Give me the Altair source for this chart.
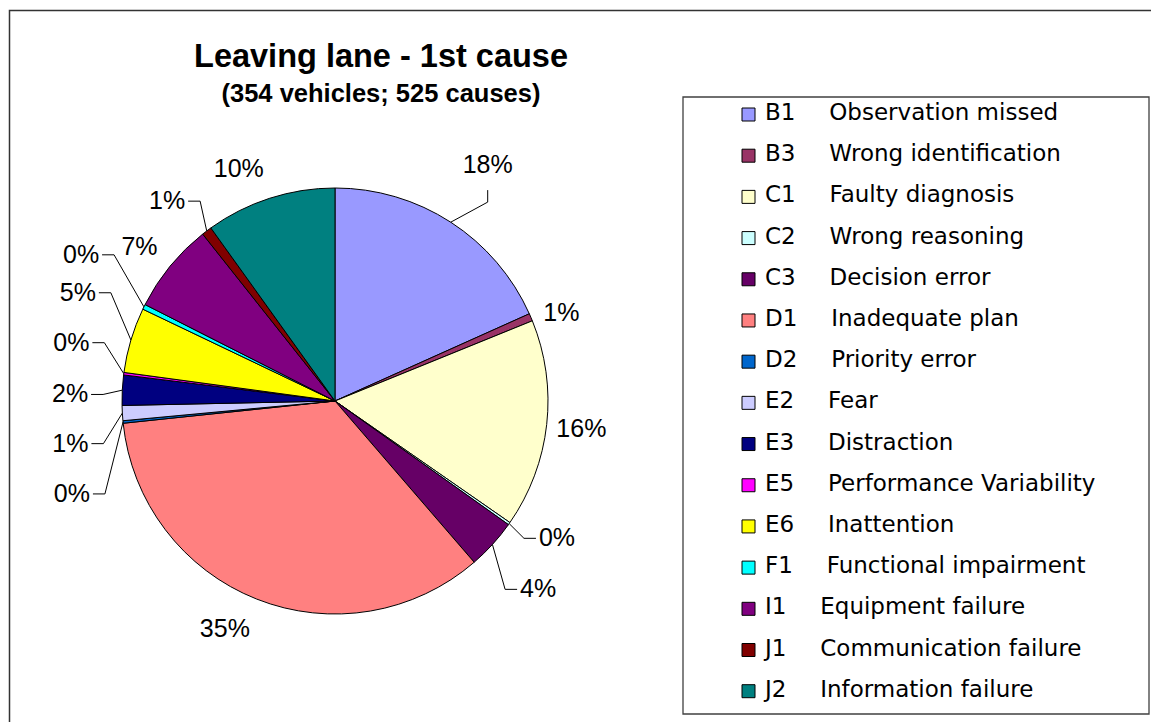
import altair as alt
import pandas as pd

# ---- data ----
keys = ["B1", "B3", "C1", "C2", "C3", "D1", "D2", "E2", "E3", "E5", "E6", "F1", "I1", "J1", "J2"]
descs = ["Observation missed", "Wrong identification", "Faulty diagnosis", "Wrong reasoning",
         "Decision error", "Inadequate plan", "Priority error", "Fear", "Distraction",
         "Performance Variability", "Inattention", "Functional impairment", "Equipment failure",
         "Communication failure", "Information failure"]
counts = [96, 3, 83, 1, 20, 182, 1, 6, 12, 1, 26, 2, 36, 4, 52]
colors = ["#9999FF", "#993366", "#FFFFCC", "#CCFFFF", "#660066", "#FF8080", "#0066CC", "#CCCCFF",
          "#000080", "#FF00FF", "#FFFF00", "#00FFFF", "#800080", "#800000", "#008080"]

title_main = "Leaving lane - 1st cause"
title_sub = "(354 vehicles; 525 causes)"

# ---- label layout (offset from slice mid-angle in degrees, radius in px, leader flags) ----
label_dang = [0, 1.8, 0.2, -3.4, 0.5, 4.2, -13.8, -5.9, -1.5, 5.1, 6.2, 3.7, -1.0, -3.0, -4.7]
label_r = [281, 243, 248, 261, 277, 253, 279, 268, 265, 270, 279, 293, 249, 261, 251]
leader = [1, 0, 0, 1, 1, 0, 1, 1, 1, 1, 1, 1, 0, 1, 0]
leader_vertical = [1, 0, 0, 0, 0, 0, 0, 0, 0, 0, 0, 0, 0, 0, 0]

SP = "\u00a0\u00a0\u00a0\u00a0\u2009"
df = pd.DataFrame({
    "key": keys,
    "n": counts,
    "idx": list(range(len(keys))),
    "legend": [k + SP + d for k, d in zip(keys, descs)],
    "dang": label_dang,
    "lr": label_r,
    "lead": leader,
    "vert": leader_vertical,
})

CX, CY, R = 335, 401, 213

color_scale = alt.Scale(domain=keys, range=colors)

base = alt.Chart(df)

pie = base.mark_arc(outerRadius=R, stroke="black", strokeWidth=1).encode(
    theta=alt.Theta("n:Q", stack=True),
    order=alt.Order("idx:Q"),
    color=alt.Color("key:N", scale=color_scale, legend=None),
    x=alt.value(CX),
    y=alt.value(CY),
)

calc = base.transform_joinaggregate(total="sum(n)").transform_window(
    cum="sum(n)", sort=[alt.SortField("idx")], frame=[None, 0]
).transform_calculate(
    mid="2*PI*(datum.cum - datum.n/2)/datum.total",
).transform_calculate(
    la="datum.mid + datum.dang*PI/180",
    lab="format(datum.n/datum.total, '.0%')",
).transform_calculate(
    lx=f"{CX} + datum.lr*sin(datum.la)",
    ly=f"{CY} - datum.lr*cos(datum.la)",
    ex=f"{CX} + {R}*sin(datum.mid)",
    ey=f"{CY} - {R}*cos(datum.mid)",
    hw="(length(datum.lab) - 1)*7 + 11",
).transform_calculate(
    side=f"datum.lx < {CX} ? 1 : -1",
).transform_calculate(
    sx="datum.vert == 1 ? datum.lx : datum.lx + datum.side*(datum.hw + 3)",
    sy="datum.vert == 1 ? datum.ly + 25 : datum.ly",
).transform_calculate(
    bx="datum.vert == 1 ? datum.sx : datum.sx + datum.side*12",
    by="datum.vert == 1 ? datum.sy + 12 : datum.sy",
)

labels = calc.mark_text(font="Liberation Sans", fontSize=25, baseline="middle", color="black").encode(
    x=alt.X("lx:Q", scale=None, axis=None),
    y=alt.Y("ly:Q", scale=None, axis=None),
    text="lab:N",
)

stubs = calc.transform_filter("datum.lead == 1").mark_rule(color="black", strokeWidth=1).encode(
    x=alt.X("sx:Q", scale=None, axis=None), x2="bx:Q",
    y=alt.Y("sy:Q", scale=None, axis=None), y2="by:Q",
)
diags = calc.transform_filter("datum.lead == 1").mark_rule(color="black", strokeWidth=1).encode(
    x=alt.X("bx:Q", scale=None, axis=None), x2="ex:Q",
    y=alt.Y("by:Q", scale=None, axis=None), y2="ey:Q",
)

one = alt.Chart(pd.DataFrame({"t": [title_main], "s": [title_sub]}))

frame = one.mark_rect(fillOpacity=0, stroke="#333333", strokeWidth=1.5).encode(
    x=alt.value(9.5), x2=alt.value(1175), y=alt.value(10.5), y2=alt.value(745)
)
legbox = one.mark_rect(fill="white", stroke="#404040", strokeWidth=1.3).encode(
    x=alt.value(683), x2=alt.value(1149), y=alt.value(97), y2=alt.value(714)
)

t1 = one.mark_text(font="Liberation Sans", fontWeight="bold", fontSize=32.5, baseline="alphabetic",
                   align="center").encode(text="t:N", x=alt.value(381), y=alt.value(67))
t2 = one.mark_text(font="Liberation Sans", fontWeight="bold", fontSize=25.5, baseline="alphabetic",
                   align="center").encode(text="s:N", x=alt.value(381), y=alt.value(102))

row_scale = alt.Scale(type="point", domain=keys, range=[114.5, 691.2], padding=0)

leg_sq = base.mark_square(size=169, stroke="black", strokeWidth=1, opacity=1).encode(
    x=alt.value(748.5),
    y=alt.Y("key:N", scale=row_scale, axis=None),
    color=alt.Color("key:N", scale=color_scale, legend=None),
)
leg_tx = base.mark_text(font="DejaVu Sans", fontSize=23, align="left", baseline="middle", dy=-1.5,
                        color="black").encode(
    x=alt.value(765),
    y=alt.Y("key:N", scale=row_scale, axis=None),
    text="legend:N",
)

chart = alt.layer(
    frame, legbox, pie, stubs, diags, labels, t1, t2, leg_sq, leg_tx
).resolve_scale(
    x="independent", y="independent"
).properties(
    width=1151, height=722, padding=0,
    autosize=alt.AutoSizeParams(type="none"),
    background="white",
).configure_view(stroke=None)

chart.save("out.html", embed_options={"renderer": "svg", "actions": False})
